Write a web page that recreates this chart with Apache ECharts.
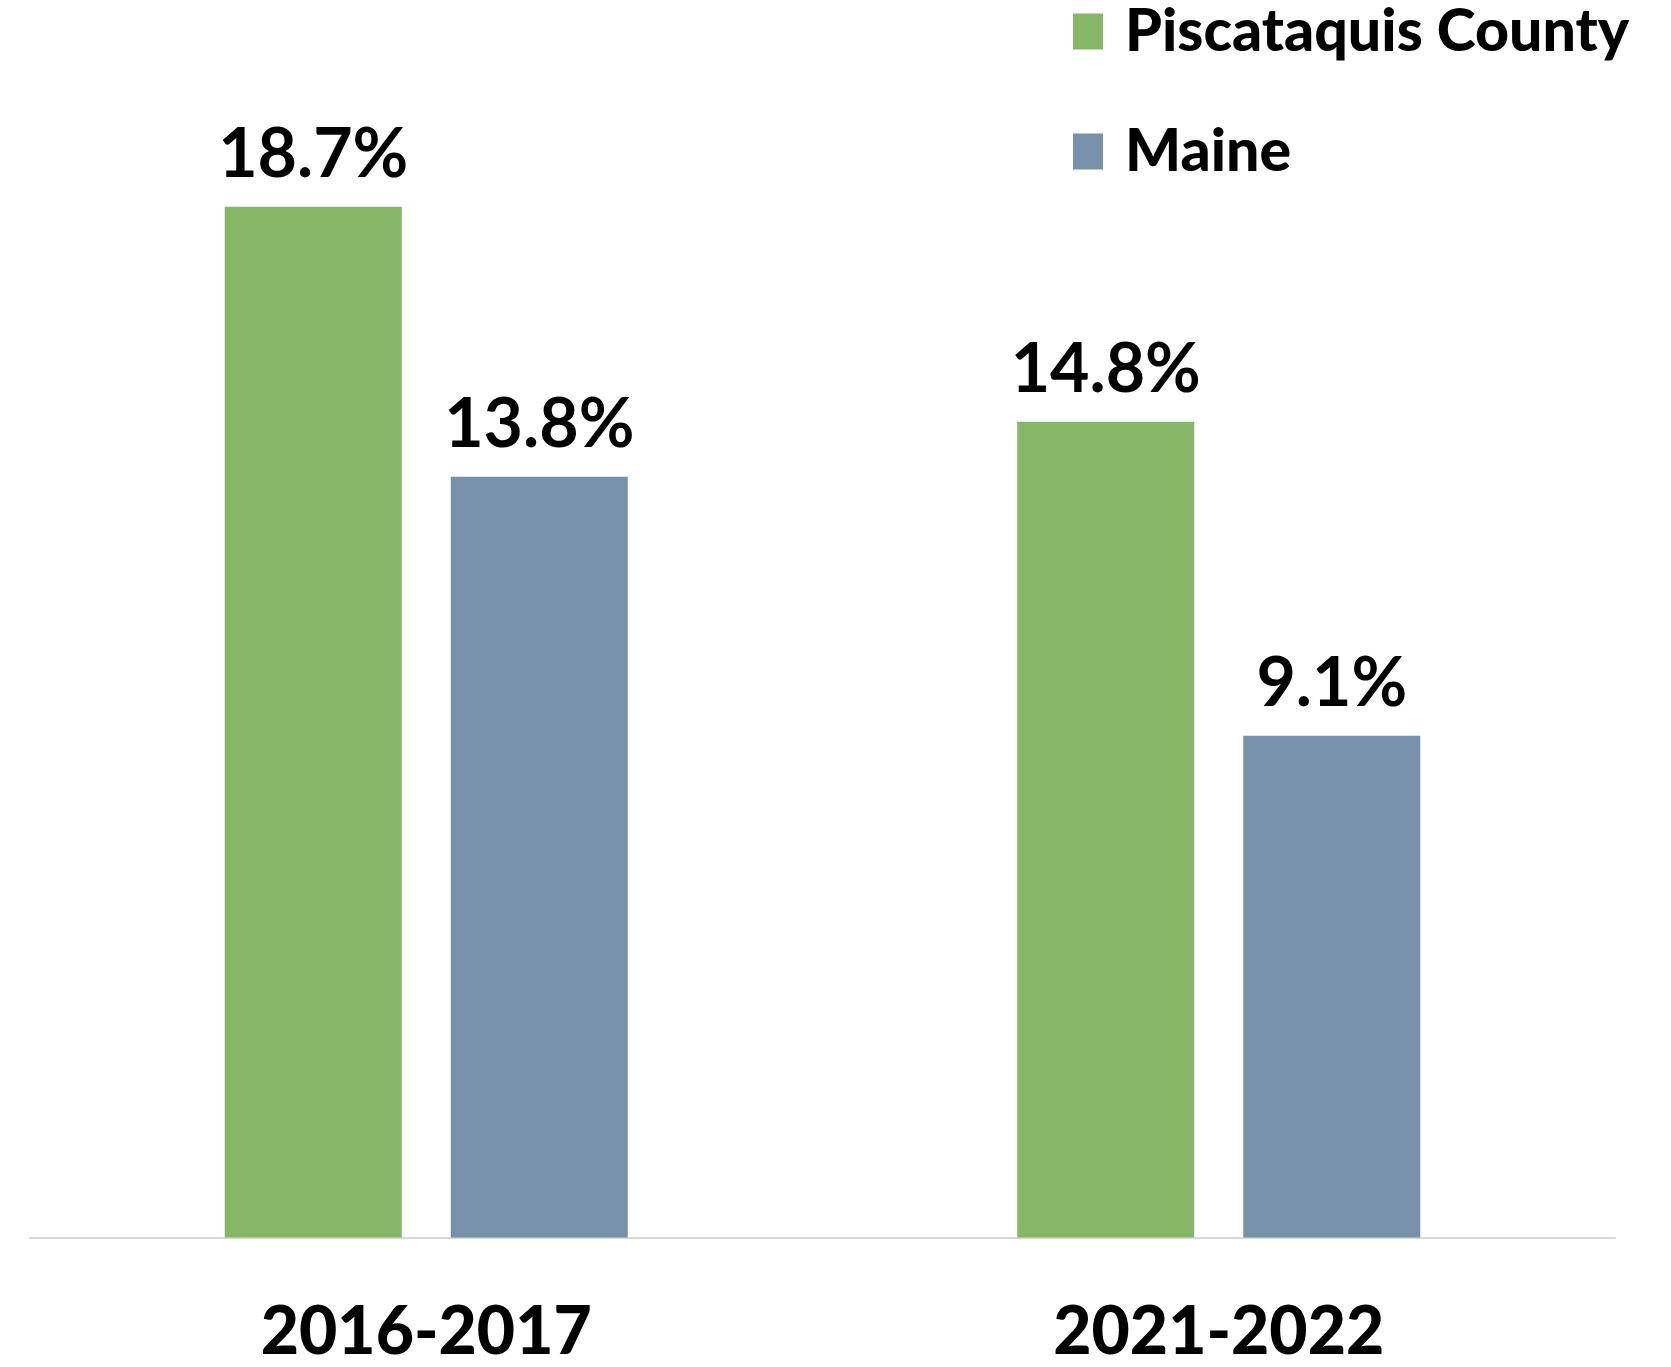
<!DOCTYPE html>
<html>
<head>
<meta charset="utf-8">
<script src="https://cdn.jsdelivr.net/npm/echarts@6/dist/echarts.min.js"></script>
<style>
  html, body { margin: 0; padding: 0; background: #ffffff; }
  #chart { width: 1671px; height: 1367px; }
</style>
</head>
<body>
<div id="chart"></div>
<script>
// Periods shown on the x axis
const periods = ['2016-2017', '2021-2022'];
// Series names
const seriesNames = ['Piscataquis County', 'Maine'];
// Percent values per period
const piscataquisValues = [18.7, 14.8];
const maineValues = [13.8, 9.1];

const GREEN = '#85B767';
const BLUE = '#7891AA';
const FONT = 'Lato, "Open Sans", "Noto Sans", sans-serif';

const chart = echarts.init(document.getElementById('chart'), null, { renderer: 'canvas' });

const labelStyle = {
  show: true,
  position: 'top',
  distance: 18,
  formatter: function (p) { return p.value + '%'; },
  color: '#000000',
  fontFamily: FONT,
  fontWeight: 'bold',
  fontSize: 68
};

chart.setOption({
  backgroundColor: '#ffffff',
  animation: false,
  legend: {
    data: seriesNames,
    orient: 'vertical',
    left: 1068,
    top: -3,
    itemWidth: 30,
    itemHeight: 36,
    itemGap: 61,
    icon: 'rect',
    textStyle: {
      color: '#000000',
      fontFamily: FONT,
      fontWeight: 900,
      fontSize: 59,
      padding: [0, 0, 0, 17]
    }
  },
  grid: {
    left: 30,
    right: 56,
    top: 135,
    bottom: 129.5,
    containLabel: false
  },
  xAxis: {
    type: 'category',
    data: periods,
    axisLine: { show: true, lineStyle: { color: '#D9D9D9', width: 2 } },
    axisTick: { show: false },
    axisLabel: {
      margin: 62,
      color: '#000000',
      fontFamily: FONT,
      fontWeight: 900,
      fontSize: 66
    }
  },
  yAxis: {
    type: 'value',
    min: 0,
    max: 20,
    show: false,
    splitLine: { show: false }
  },
  series: [
    {
      name: seriesNames[0],
      type: 'bar',
      data: piscataquisValues,
      barWidth: 177,
      barGap: '27.7%',
      itemStyle: { color: GREEN },
      label: labelStyle
    },
    {
      name: seriesNames[1],
      type: 'bar',
      data: maineValues,
      barWidth: 177,
      barGap: '27.7%',
      itemStyle: { color: BLUE },
      label: labelStyle
    }
  ]
});
</script>
</body>
</html>
